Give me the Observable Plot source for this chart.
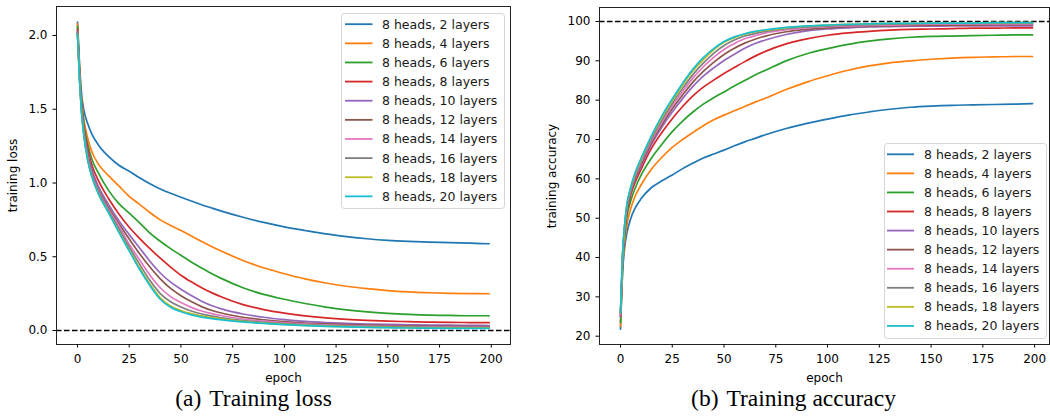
<!DOCTYPE html>
<html>
<head>
<meta charset="utf-8">
<script src="https://cdn.jsdelivr.net/npm/d3@7"></script>
<script src="https://cdn.jsdelivr.net/npm/@observablehq/plot@0.6"></script>
<style>
  html, body { margin: 0; padding: 0; background: #fff; }
  #root { position: relative; width: 1050px; height: 417px; overflow: hidden; background: #fff; }
  .panel { position: absolute; top: 0; }
  .caption { position: absolute; font-family: "Liberation Serif", "Times New Roman", serif; font-size: 23.5px; line-height: 1; white-space: nowrap; transform: translateX(-50%); color: #000; }
  .caption .gap { display: inline-block; width: 8px; }
  .legend { position: absolute; top: 0; left: 0; }
</style>
</head>
<body>
<div id="root"></div>
<script>
// ---------- data ----------
const epochs = [0,1,2,3,5,7,10,15,20,25,30,35,40,45,50,55,60,65,70,80,90,100,110,120,130,140,150,160,170,180,190,199];
const seriesNames = ["8 heads, 2 layers","8 heads, 4 layers","8 heads, 6 layers","8 heads, 8 layers","8 heads, 10 layers","8 heads, 12 layers","8 heads, 14 layers","8 heads, 16 layers","8 heads, 18 layers","8 heads, 20 layers"];
const seriesColors = ["#1f77b4","#ff7f0e","#2ca02c","#d62728","#9467bd","#8c564b","#e377c2","#7f7f7f","#bcbd22","#17becf"];

const loss2  = [2.09,1.80,1.60,1.50,1.40,1.33,1.26,1.18,1.12,1.08,1.035,0.995,0.96,0.93,0.903,0.878,0.853,0.83,0.808,0.768,0.733,0.703,0.678,0.655,0.637,0.622,0.611,0.604,0.599,0.596,0.592,0.588];
const loss4  = [2.08,1.78,1.57,1.44,1.30,1.21,1.13,1.05,0.98,0.91,0.855,0.80,0.75,0.712,0.678,0.64,0.603,0.568,0.535,0.475,0.425,0.385,0.35,0.322,0.30,0.284,0.271,0.262,0.256,0.252,0.25,0.249];
const loss6  = [2.06,1.76,1.55,1.41,1.26,1.16,1.07,0.95,0.86,0.795,0.73,0.66,0.605,0.555,0.51,0.465,0.424,0.385,0.35,0.29,0.245,0.212,0.183,0.159,0.14,0.126,0.116,0.109,0.104,0.102,0.10,0.10];
const loss8  = [2.04,1.74,1.53,1.39,1.23,1.12,1.02,0.895,0.79,0.70,0.625,0.555,0.49,0.43,0.375,0.33,0.29,0.255,0.225,0.175,0.142,0.118,0.099,0.085,0.075,0.068,0.063,0.06,0.057,0.055,0.054,0.053];
const loss10 = [2.03,1.73,1.51,1.37,1.20,1.09,0.98,0.855,0.745,0.65,0.56,0.47,0.39,0.328,0.28,0.237,0.199,0.168,0.145,0.112,0.09,0.074,0.062,0.054,0.048,0.044,0.041,0.039,0.037,0.036,0.035,0.034];
const loss12 = [2.02,1.72,1.50,1.36,1.18,1.07,0.96,0.835,0.725,0.62,0.52,0.43,0.35,0.285,0.236,0.196,0.162,0.136,0.117,0.09,0.073,0.06,0.051,0.045,0.04,0.036,0.033,0.031,0.029,0.028,0.027,0.027];
const loss14 = [2.02,1.71,1.49,1.35,1.17,1.06,0.95,0.82,0.71,0.585,0.48,0.375,0.29,0.23,0.19,0.157,0.132,0.114,0.1,0.078,0.063,0.052,0.044,0.038,0.034,0.03,0.028,0.026,0.024,0.023,0.022,0.022];
const loss16 = [2.02,1.71,1.48,1.34,1.16,1.05,0.94,0.81,0.69,0.565,0.45,0.34,0.25,0.195,0.16,0.132,0.112,0.097,0.086,0.067,0.055,0.046,0.039,0.034,0.03,0.027,0.025,0.023,0.021,0.02,0.02,0.019];
const loss18 = [2.01,1.70,1.47,1.33,1.15,1.04,0.93,0.80,0.67,0.545,0.425,0.315,0.222,0.166,0.136,0.114,0.099,0.087,0.078,0.062,0.05,0.042,0.035,0.03,0.026,0.023,0.021,0.019,0.018,0.017,0.016,0.016];
const loss20 = [2.01,1.70,1.47,1.33,1.15,1.04,0.93,0.80,0.665,0.54,0.415,0.305,0.212,0.157,0.127,0.106,0.091,0.08,0.072,0.058,0.048,0.04,0.033,0.028,0.024,0.021,0.019,0.017,0.016,0.015,0.014,0.014];

const acc2  = [21.8,36,42.5,46,50,52.5,55,57.8,59.5,61,62.6,64,65.3,66.3,67.3,68.4,69.4,70.3,71.2,72.8,74.1,75.2,76.2,77,77.7,78.2,78.5,78.7,78.8,78.9,79,79.1];
const acc4  = [22.5,37,44,48,52.5,55.5,58.5,62.5,65.5,68,70,71.8,73.5,75,76.2,77.3,78.4,79.5,80.5,82.7,84.6,86.2,87.6,88.7,89.5,90,90.4,90.7,90.9,91,91.1,91.1];
const acc6  = [23.5,38,45.5,50,54.5,57.5,61,65.3,68.8,72,74.7,77,79,80.6,82.1,83.6,85,86.4,87.6,90,91.8,93.1,94.2,95,95.6,96,96.2,96.3,96.4,96.5,96.6,96.6];
const acc8  = [25,39,46.5,51,56,59,62.5,67.8,71.8,75.3,78.4,81.1,83.3,85.1,86.8,88.3,89.8,91.2,92.4,94.3,95.6,96.5,97.1,97.5,97.8,98,98.1,98.2,98.3,98.3,98.4,98.4];
const acc10 = [25,39.5,47,52,56.7,59.8,63.3,68.8,73.2,77,80.4,83.5,86.1,88.2,90.1,91.7,93.2,94.4,95.3,96.7,97.6,98.1,98.4,98.6,98.7,98.8,98.8,98.9,98.9,98.9,98.9,98.9];
const acc12 = [25.5,40,47.5,52.3,57,60.2,63.8,69.3,73.8,77.8,81.3,84.6,87.3,89.6,91.6,93.2,94.5,95.5,96.3,97.4,98,98.4,98.7,98.8,98.9,99,99.1,99.1,99.1,99.2,99.2,99.2];
const acc14 = [25.5,40,47.5,52.5,57.3,60.6,64.3,69.8,74.4,78.5,82.2,85.6,88.5,90.9,92.9,94.4,95.6,96.4,97.1,97.9,98.4,98.7,98.9,99,99.1,99.2,99.3,99.3,99.4,99.4,99.4,99.4];
const acc16 = [26,40.5,48,52.8,57.6,61,64.7,70.3,75,79.2,83,86.5,89.4,91.9,93.9,95.3,96.3,97,97.5,98.2,98.6,98.9,99.1,99.2,99.3,99.4,99.5,99.5,99.5,99.6,99.6,99.6];
const acc18 = [26,40.5,48,53,57.8,61.2,65,70.8,75.6,79.8,83.8,87.4,90.3,92.8,94.7,95.9,96.8,97.4,97.8,98.4,98.8,99.1,99.3,99.4,99.5,99.5,99.6,99.6,99.6,99.7,99.7,99.7];
const acc20 = [26,41,48.3,53.2,58,61.5,65.3,71,76,80.3,84.3,87.9,90.8,93.1,94.9,96.1,96.9,97.5,97.9,98.5,98.9,99.1,99.3,99.4,99.5,99.5,99.6,99.6,99.6,99.7,99.7,99.7];

const xTicks = [0,25,50,75,100,125,150,175,200];
const lossTicks = [0,0.5,1.0,1.5,2.0];
const accTicks = [20,30,40,50,60,70,80,90,100];

const lossSeries = [loss2,loss4,loss6,loss8,loss10,loss12,loss14,loss16,loss18,loss20];
const accSeries = [acc2,acc4,acc6,acc8,acc10,acc12,acc14,acc16,acc18,acc20];

// ---------- drawing ----------
const root = document.getElementById("root");
const font = "DejaVu Sans, sans-serif";

function lineMarks(seriesList) {
  return seriesList.map((vals, i) =>
    Plot.line(epochs.map((e, j) => ({epoch: e, value: vals[j]})), {
      x: "epoch", y: "value", stroke: seriesColors[i], strokeWidth: 1.7, curve: "monotone-x"
    })
  );
}

function panel(opts) {
  const p = Plot.plot({
    width: opts.width, height: opts.height,
    marginLeft: opts.ml, marginRight: opts.mr, marginTop: opts.mt, marginBottom: opts.mb,
    style: {fontFamily: font, fontSize: "12px", color: "#000", background: "transparent", overflow: "visible"},
    x: {domain: opts.xDomain},
    y: {domain: opts.yDomain},
    marks: [
      Plot.ruleY([opts.refY], {stroke: "#000", strokeWidth: 1.6, strokeDasharray: "5.5,2.5"}),
      ...lineMarks(opts.series),
      Plot.frame({stroke: "#222", strokeWidth: 1}),
      Plot.axisX({ticks: xTicks, tickSize: 3.5, tickPadding: 6, tickFormat: d3.format("d"),
        label: "epoch", labelAnchor: "center", labelArrow: "none", labelOffset: 37, fontSize: 12}),
      Plot.axisY({ticks: opts.yTicks, tickSize: 3.5, tickPadding: 5.5, tickFormat: opts.yFormat,
        label: opts.yLabel, labelAnchor: "center", labelArrow: "none", labelOffset: opts.labelOffset, fontSize: 12})
    ]
  });
  p.classList.add("panel");
  p.style.left = opts.left + "px";
  root.appendChild(p);
}

panel({left: 0, width: 525, height: 395, ml: 56, mr: 15, mt: 6, mb: 51,
  xDomain: [-10.15, 209.3], yDomain: [-0.0949, 2.1966], series: lossSeries, refY: 0,
  yTicks: lossTicks, yFormat: d3.format(".1f"), yLabel: "training loss", labelOffset: 48});

panel({left: 530, width: 520, height: 395, ml: 69, mr: 1, mt: 7, mb: 51,
  xDomain: [-10.14, 207.2], yDomain: [17.89, 103.56], series: accSeries, refY: 100,
  yTicks: accTicks, yFormat: d3.format("d"), yLabel: "training accuracy", labelOffset: 52});

// legends
function legend(box) {
  const svg = d3.create("svg").attr("class", "legend").attr("width", 1050).attr("height", 417)
    .style("position", "absolute").style("left", "0px").style("top", "0px");
  svg.append("rect").attr("x", box.x0 + 0.5).attr("y", box.y0 + 0.5)
    .attr("width", box.x1 - box.x0).attr("height", box.y1 - box.y0)
    .attr("rx", 3).attr("fill", "#fff").attr("fill-opacity", 0.85).attr("stroke", "#d6d6d6");
  seriesNames.forEach((name, i) => {
    const y = box.first + i * box.step;
    svg.append("line").attr("x1", box.lx0).attr("x2", box.lx1).attr("y1", y).attr("y2", y)
      .attr("stroke", seriesColors[i]).attr("stroke-width", 1.8);
    svg.append("text").attr("x", box.tx).attr("y", y).attr("dy", "0.36em")
      .attr("font-family", font).attr("font-size", 12.5).attr("fill", "#1a1a1a").text(name);
  });
  root.appendChild(svg.node());
}
legend({x0: 341, x1: 504, y0: 13, y1: 208, first: 24.2, step: 19.13, lx0: 345, lx1: 372.5, tx: 382});
legend({x0: 884, x1: 1046, y0: 143, y1: 338, first: 154.3, step: 19.07, lx0: 887, lx1: 914, tx: 924});

// captions
function caption(label, title, cx) {
  const d = document.createElement("div");
  d.className = "caption";
  d.style.left = cx + "px";
  d.style.top = "387px";
  d.innerHTML = label + '<span class="gap"></span>' + title;
  root.appendChild(d);
}
caption("(a)", "Training loss", 253.5);
caption("(b)", "Training accuracy", 793.5);
</script>
</body>
</html>
